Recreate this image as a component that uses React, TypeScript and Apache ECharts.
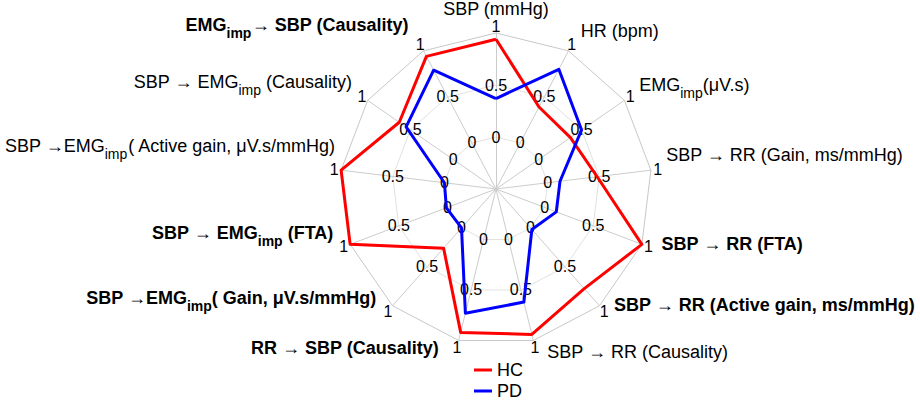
import React, { useEffect, useRef } from 'react';
import * as echarts from 'echarts';

// Indicators, listed clockwise starting at the top
const categories = [
  'SBP (mmHg)',
  'HR (bpm)',
  'EMG_imp(μV.s)',
  'SBP → RR (Gain, ms/mmHg)',
  'SBP → RR (FTA)',
  'SBP → RR (Active gain, ms/mmHg)',
  'SBP → RR (Causality)',
  'RR → SBP (Causality)',
  'SBP →EMG_imp( Gain, μV.s/mmHg)',
  'SBP → EMG_imp (FTA)',
  'SBP →EMG_imp( Active gain, μV.s/mmHg)',
  'SBP → EMG_imp (Causality)',
  'EMG_imp→ SBP (Causality)',
];
const boldCategory = [false, false, false, false, true, true, false, true, true, true, false, false, true];

const seriesNames = ['HC', 'PD'];
const hcValues = [0.94, 0.39, 0.37, 0.48, 1.0, 0.78, 0.94, 0.92, 0.26, 1.0, 1.0, 0.63, 0.94];
const pdValues = [0.37, 0.8, 0.5, 0.12, 0.12, 0.02, 0.62, 0.73, 0.0, 0.01, 0.0, 0.55, 0.79];

const axisMin = -0.5;
const axisMax = 1;
const axisSplits = 3;

const FONT = "'Liberation Sans', Arial, Helvetica, sans-serif";

// name placement (gap along spoke, padding [t, r, b, l]) per indicator (clockwise order)
const nameLayout = [
  { gap: 14, pad: [0, 0, 0, 0] },
  { gap: 22, pad: [0, 0, 0, 2] },
  { gap: 18, pad: [0, 0, 10, 0] },
  { gap: 15, pad: [0, 0, 27, 0] },
  { gap: 21, pad: [0, 0, 15, 0] },
  { gap: 22, pad: [0, 0, 35, 0] },
  { gap: 12, pad: [0, 0, 0, 11] },
  { gap: 8, pad: [0, 18, 0, 0] },
  { gap: 5, pad: [0, 13, 24, 0] },
  { gap: 18, pad: [0, 0, 35, 0] },
  { gap: 5, pad: [0, 0, 46, 0] },
  { gap: 19, pad: [0, 0, 16, 0] },
  { gap: 26, pad: [0, 3, 6, 0] },
];

function richName(name: string, bold: boolean) {
  const m = bold ? 'b' : 'n';
  const s = bold ? 'bs' : 'ns';
  return name
    .split('_imp')
    .map((p) => (p ? `{${m}|${p}}` : ''))
    .join(`{${s}|imp}`);
}

export default function App() {
  const ref = useRef<HTMLDivElement>(null);
  useEffect(() => {
    if (!ref.current) return;
    document.body.style.margin = '0';
    const chart = echarts.init(ref.current, undefined, { renderer: 'svg' });
    const N = categories.length;
    // ECharts places indicators counter-clockwise; reorder to get clockwise
    const order = Array.from({ length: N }, (_, k) => (N - k) % N);
    const indicator = order.map((i) => {
      const theta = (i * 2 * Math.PI) / N;
      const dx = Math.sin(theta) * 7;
      const dy = -Math.cos(theta) * 7;
      return {
        name: richName(categories[i], boldCategory[i]),
        min: axisMin,
        max: axisMax,
        nameGap: nameLayout[i].gap,
        nameTextStyle: { padding: nameLayout[i].pad },
        axisLabel: {
          rich: {
            o: {
              padding: [
                Math.max(0, 2 * dy),
                Math.max(0, -2 * dx),
                Math.max(0, -2 * dy),
                Math.max(0, 2 * dx),
              ],
            },
          },
        },
      };
    });
    const option: any = {
      animation: false,
      textStyle: { fontFamily: FONT },
      legend: {
        orient: 'vertical',
        left: 469,
        top: 356,
        height: 60,
        itemWidth: 18,
        itemHeight: 3,
        itemGap: 3,
        icon: 'rect',
        data: seriesNames,
        textStyle: { fontSize: 18, color: '#000', fontFamily: FONT },
      },
      radar: {
        center: [496, 189],
        radius: 156,
        startAngle: 90,
        shape: 'polygon',
        splitNumber: axisSplits,
        indicator,
        axisNameGap: 15,
        axisName: {
          color: '#000',
          fontSize: 18,
          fontFamily: FONT,
          rich: {
            n: { fontSize: 18, color: '#000', fontFamily: FONT },
            b: { fontSize: 18, color: '#000', fontWeight: 'bold', fontFamily: FONT },
            ns: { fontSize: 14, color: '#000', fontFamily: FONT, padding: [16, 0, 0, 0] },
            bs: { fontSize: 14, color: '#000', fontWeight: 'bold', fontFamily: FONT, padding: [16, 0, 0, 0] },
          },
        },
        axisLine: { show: true, lineStyle: { color: '#cccccc', width: 1 } },
        splitLine: {
          show: true,
          lineStyle: { color: ['#e2e2e2', '#e2e2e2', '#e2e2e2', '#c8c8c8'], width: 1 },
        },
        splitArea: { show: false },
        axisTick: { show: false },
        axisLabel: {
          show: true,
          margin: 0,
          align: 'center',
          verticalAlign: 'middle',
          fontSize: 16,
          color: '#000',
          fontFamily: FONT,
          formatter: (v: number) => (v < 0 ? '' : v === 1 ? '{o|1}' : String(v)),
          rich: { o: { fontSize: 16, color: '#000', fontFamily: FONT } },
        },
      },
      series: [
        {
          type: 'radar',
          symbol: 'none',
          data: [
            {
              name: seriesNames[0],
              value: order.map((i) => hcValues[i]),
              lineStyle: { color: '#ff0000', width: 3 },
              itemStyle: { color: '#ff0000' },
            },
            {
              name: seriesNames[1],
              value: order.map((i) => pdValues[i]),
              lineStyle: { color: '#0000ff', width: 3 },
              itemStyle: { color: '#0000ff' },
            },
          ],
        },
      ],
    };
    chart.setOption(option);
    return () => chart.dispose();
  }, []);
  return <div ref={ref} style={{ width: 920, height: 400 }} />;
}
